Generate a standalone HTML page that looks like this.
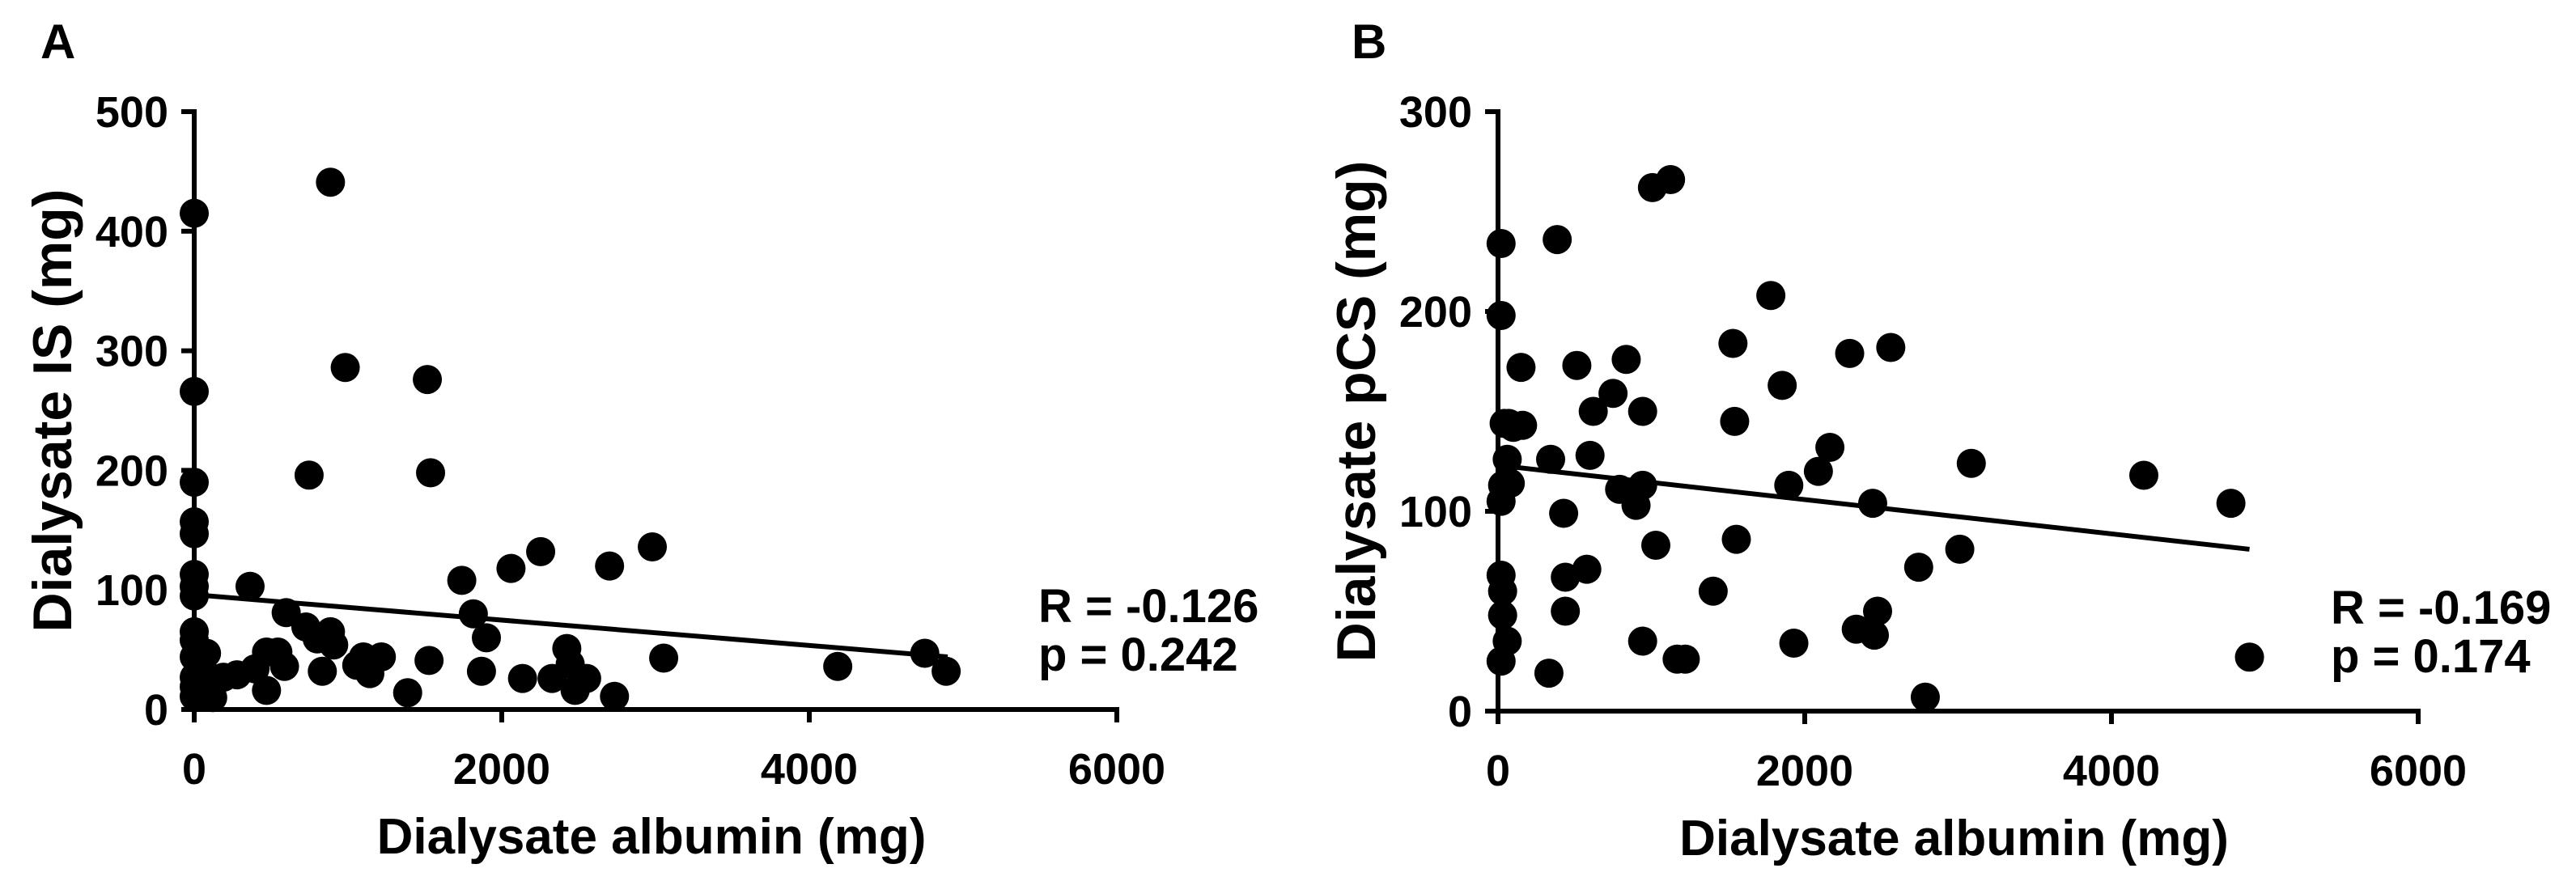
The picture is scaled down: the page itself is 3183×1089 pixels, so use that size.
<!DOCTYPE html>
<html><head><meta charset="utf-8"><style>
html,body{margin:0;padding:0;background:#fff;}
svg{display:block;}
text{font-family:"Liberation Sans",Arial,sans-serif;font-weight:bold;fill:#000;}
</style></head><body>
<svg id="fig" width="3183" height="1089" viewBox="0 0 3183 1089" xmlns="http://www.w3.org/2000/svg"></svg>
<script>
const xTicks = [0, 2000, 4000, 6000];
const aYTicks = [0, 100, 200, 300, 400, 500];
const bYTicks = [0, 100, 200, 300];
const aX = [0,0,0,0,0,0,0,0,0,0,0,0,0,0,100,80,190,120,886,982,1516,747,1537,363,598,726,886,907,800,278,395,470,544,587,470,833,1100,1057,1142,1217,1388,1527,1740,1815,1900,1868,2060,2135,2253,2327,2423,2445,2477,2552,2733,2701,2979,3053,4185,4751,4890];
const aY = [415,266,190,157,147,113,103,95,65,58,44,27,19,11,27,47,27,10,441,286,276,196,198,103,81,69,65,54,59,29,34,48,48,36,16,32,44,37,30,44,14,41,108,80,60,32,118,26,132,26,51,38,16,26,11,120,136,43,36,47,32];
const bX = [20,20,40,70,60,80,20,20,30,30,60,20,30,100,150,160,386,343,332,514,621,600,428,439,439,579,750,836,943,1007,1125,793,943,900,1029,943,1168,1221,1403,1532,1543,1554,1779,1853,1896,1929,2089,2164,2293,2336,2443,2454,2475,2561,2743,2786,3011,3086,4211,4779,4900];
const bY = [234,198,144,144,126,114,105,68,60,48,35,25,113,142,172,143,236,126,19,173,150,128,99,67,50,71,159,176,150,262,266,111,113,103,83,35,26,26,60,184,145,86,208,163,113,34,120,132,179,41,104,38,50,182,72,7,81,124,118,104,27];
const aFit = [96, 44];
const bFit = [123, 81];
const fitX = [0, 4900];

const NS = "http://www.w3.org/2000/svg";
const svg = document.getElementById('fig');
function mk(tag, attrs, parent, txt){
  const e = document.createElementNS(NS, tag);
  for (const k in attrs) e.setAttribute(k, attrs[k]);
  if (txt !== undefined) e.textContent = txt;
  (parent || svg).appendChild(e);
  return e;
}
function panel(p){
  const g = mk('g', {});
  
  
  const sx = v => p.x0 + (v / 6000) * (p.x1 - p.x0);
  const sy = v => p.y0 - (v / p.ymax) * (p.y0 - p.y1);
  const lab = mk('text', {x: p.lx, y: 72, 'font-size': 60}, g, p.letter);
  
  
  const ya = mk('line', {x1: p.x0, y1: p.y0 + 3, x2: p.x0, y2: p.y1 - 3, stroke: '#000', 'stroke-width': 6}, g);
  
  
  const xa = mk('line', {x1: p.x0 - 3, y1: p.y0, x2: p.x1 + 3, y2: p.y0, stroke: '#000', 'stroke-width': 6}, g);
  
  
  p.yTicks.forEach(v => {
    mk('line', {x1: p.x0 - 16, y1: sy(v), x2: p.x0, y2: sy(v), stroke: '#000', 'stroke-width': 6}, g);
    const t = mk('text', {x: p.x0 - 32, y: sy(v) + 19, 'font-size': 54, 'text-anchor': 'end'}, g, v);
    
    
  });
  xTicks.forEach(v => {
    mk('line', {x1: sx(v), y1: p.y0, x2: sx(v), y2: p.y0 + 16, stroke: '#000', 'stroke-width': 6}, g);
    const t = mk('text', {x: sx(v), y: p.y0 + 92, 'font-size': 54, 'text-anchor': 'middle'}, g, v);
    
    
  });
  const xt = mk('text', {x: (p.x0 + p.x1) / 2 - 5, y: p.y0 + 178, 'font-size': 62, 'text-anchor': 'middle'}, g, 'Dialysate albumin (mg)');
  
  
  const cy = (p.y0 + p.y1) / 2;
  const yt = mk('text', {x: 0, y: 0, 'font-size': 68, 'text-anchor': 'middle', transform: 'translate(' + (p.x0 - 152) + ',' + cy + ') rotate(-90)'}, g, p.ytitle);
  
  
  p.xs.forEach((v, i) => {
    const c = mk('circle', {cx: sx(v), cy: sy(p.ys[i]), r: 18, fill: '#000'}, g);
    
    
  });
  const fl = mk('line', {x1: sx(fitX[0]), y1: sy(p.fit[0]), x2: sx(fitX[1]), y2: sy(p.fit[1]), stroke: '#000', 'stroke-width': 6}, g);
  
  
  const r = mk('text', {x: p.sx, y: p.y0 - 108, 'font-size': 58}, g, p.r);
  
  
  const pv = mk('text', {x: p.sx, y: p.y0 - 48, 'font-size': 58}, g, p.p);
  
  
}
panel({id:'a', letter:'A', lx:50, x0:240, x1:1380, y0:877, y1:138, ymax:500, yTicks:aYTicks, xs:aX, ys:aY, fit:aFit, ytitle:'Dialysate IS (mg)', r:'R = -0.126', p:'p = 0.242', sx:1283});
panel({id:'b', letter:'B', lx:1670, x0:1851, x1:2988, y0:879, y1:138, ymax:300, yTicks:bYTicks, xs:bX, ys:bY, fit:bFit, ytitle:'Dialysate pCS (mg)', r:'R = -0.169', p:'p = 0.174', sx:2880});
</script>
</body></html>
